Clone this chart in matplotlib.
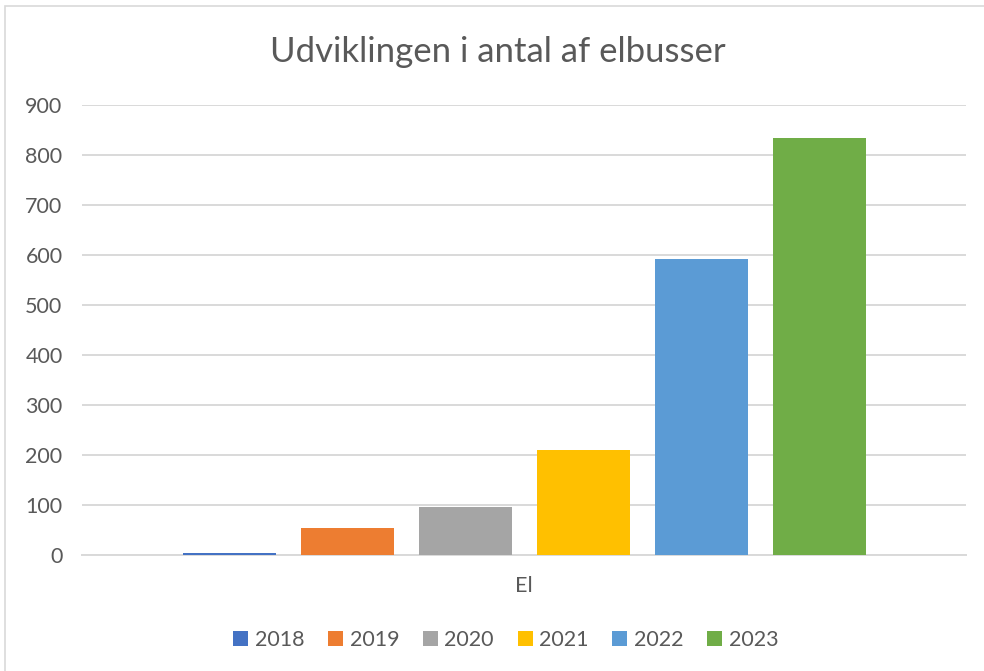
import matplotlib.pyplot as plt
from matplotlib.patches import Rectangle

years = ["2018", "2019", "2020", "2021", "2022", "2023"]
antal = [3, 53, 95, 209, 591, 833]
farver = ["#4472C4", "#ED7D31", "#A5A5A5", "#FFC000", "#5B9BD5", "#70AD47"]
yticks = [0, 100, 200, 300, 400, 500, 600, 700, 800, 900]

plt.rcParams['font.family'] = ['Lato', 'DejaVu Sans']
tekst = "#595959"

fig = plt.figure(figsize=(9.84, 6.71), dpi=100)
ax = fig.add_axes([0.0833, 0.1733, 0.8984, 0.6706])

for i, (aar, v, c) in enumerate(zip(years, antal, farver)):
    ax.bar(i, v, width=0.79, color=c, label=aar, zorder=3)

ax.set_xlim(-1.25, 6.24)
ax.set_ylim(0, 900)
ax.set_yticks(yticks)
ax.set_xticks([])
ax.grid(axis='y', color="#d9d9d9", linewidth=1.4, zorder=0)
for s in ["top", "right", "left"]:
    ax.spines[s].set_visible(False)
ax.spines["bottom"].set_color("#d9d9d9")
ax.spines["bottom"].set_linewidth(1.4)
ax.tick_params(axis='y', length=0, labelsize=15.5, labelcolor=tekst, pad=14)

ax.text(0.5, -0.07, "El", transform=ax.transAxes, ha='center', va='center',
        fontsize=15.5, color=tekst)

fig.text(0.506, 1 - 52 / 671, "Udviklingen i antal af elbusser", ha='center', va='center',
         fontsize=25, color=tekst)

fig.legend(loc='center', bbox_to_anchor=(0.514, 1 - 640 / 671), ncol=6, frameon=False,
           fontsize=15.5, labelcolor=tekst, handlelength=0.7, handleheight=0.7,
           handletextpad=0.3, columnspacing=1.1)

fig.patches.append(Rectangle((5 / 984, -0.1), 1.2, 1.1 - 6 / 671, transform=fig.transFigure,
                             fill=False, edgecolor="#d9d9d9", linewidth=1.2))

fig.savefig("out.png", dpi=100)
